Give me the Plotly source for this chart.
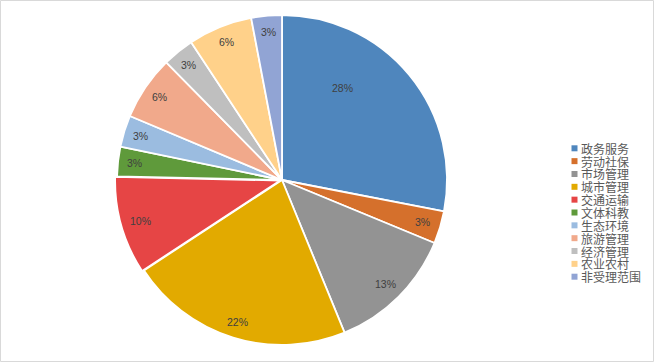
import math
import plotly.graph_objects as go

categories = ["政务服务", "劳动社保", "市场管理", "城市管理", "交通运输", "文体科教",
              "生态环境", "旅游管理", "经济管理", "农业农村", "非受理范围"]
values = [28.1, 3.2, 12.6, 22.0, 9.6, 2.9, 3.1, 6.3, 3.1, 6.3, 3.0]
colors = ["#4F86BD", "#D5702C", "#939393", "#E2AA00", "#E64545", "#5F9A3B",
          "#9BBCE0", "#F1A98B", "#BFBFBF", "#FFD18A", "#91A4D4"]
pulls = [0, 0, 0, 0, 0.012, 0, 0, 0, 0, 0, 0]
# label placement style: fraction along the slice arc and fraction of radius
label_frac = [0.33, 0.5, 0.5, 0.5, 0.5, 0.5, 0.5, 0.5, 0.5, 0.5, 0.5]
label_rad = [0.67, 0.89, 0.89, 0.9, 0.88, 0.9, 0.9, 0.9, 0.9, 0.9, 0.9]

W, H = 654, 362
CX, CY, R = 282, 180, 165          # pie centre / radius in pixels
dom_half = R * (1 + max(pulls))
dom_x = [(CX - dom_half) / W, (CX + dom_half) / W]
dom_y = [1 - (CY + dom_half) / H, 1 - (CY - dom_half) / H]

fig = go.Figure()
fig.add_trace(go.Pie(
    labels=categories, values=values, sort=False, direction="clockwise", rotation=0,
    marker=dict(colors=colors, line=dict(color="white", width=1.8)),
    pull=pulls, textinfo="none",
    domain=dict(x=dom_x, y=dom_y),
    showlegend=False, hoverinfo="label+percent",
))

shapes = []
annotations = []

# percentage labels
total = sum(values)
cum = 0.0
for v, fr, rr, p in zip(values, label_frac, label_rad, pulls):
    ang = 2 * math.pi * (cum + v * fr) / total
    mid = 2 * math.pi * (cum + v / 2) / total
    px = CX + rr * R * math.sin(ang) + p * R * math.sin(mid)
    py = CY - rr * R * math.cos(ang) - p * R * math.cos(mid)
    annotations.append(dict(text=f"{round(100 * v / total)}%", xref="paper", yref="paper",
                            x=px / W, y=1 - py / H, xanchor="center", yanchor="middle",
                            showarrow=False,
                            font=dict(size=10.5, color="#404040", family="Liberation Sans")))
    cum += v

# compact legend like the original
top_y = 148.3
step = 12.84
for i, (cat, col) in enumerate(zip(categories, colors)):
    yc = top_y + i * step
    shapes.append(dict(type="rect", xref="paper", yref="paper",
                       x0=571.5 / W, x1=577.5 / W, y0=1 - (yc + 3) / H, y1=1 - (yc - 3) / H,
                       fillcolor=col, line=dict(width=0)))
    annotations.append(dict(text=cat, xref="paper", yref="paper", x=579 / W, y=1 - yc / H,
                            xanchor="left", yanchor="middle", showarrow=False,
                            font=dict(size=12, color="#595959", family="Noto Sans CJK SC")))

shapes.append(dict(type="rect", xref="paper", yref="paper", x0=0.5 / W, x1=1 - 0.5 / W,
                   y0=0.5 / H, y1=1 - 0.5 / H, line=dict(color="#D9D9D9", width=1)))

fig.update_layout(width=W, height=H, margin=dict(l=0, r=0, t=0, b=0),
                  paper_bgcolor="white", plot_bgcolor="white",
                  shapes=shapes, annotations=annotations,
                  font=dict(family="Noto Sans CJK SC"))
fig.write_html("out.html", config={"displayModeBar": False},
               post_script="document.body.style.margin='0';document.body.style.overflow='hidden';")
